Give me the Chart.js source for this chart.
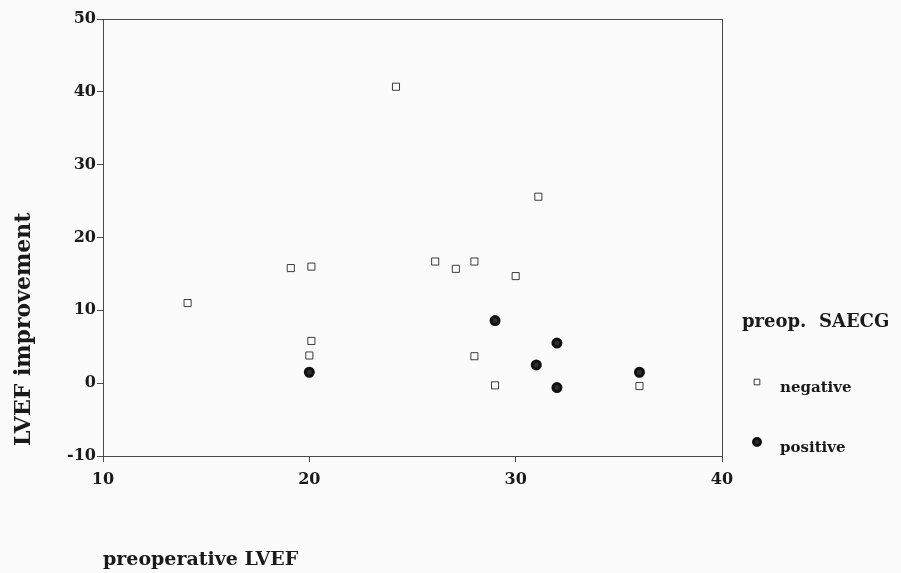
<!DOCTYPE html>
<html>
<head>
<meta charset="utf-8">
<script src="https://cdn.jsdelivr.net/npm/chart.js@4"></script>
<style>
    body { margin: 0; background: #fbfbfb; }
    canvas { display: block; }
</style>
</head>
<body>
<canvas id="grafico_saecg" width="901" height="573"></canvas>
<script>
// valores
const negativoX = [14.1, 19.1, 20.1, 20.1, 20.0, 24.2, 31.1, 26.1, 27.1, 28.0, 30.0, 28.0, 29.0, 36.0];
const negativoY = [11.0, 15.8, 16.0, 5.8, 3.8, 40.7, 25.6, 16.7, 15.7, 16.7, 14.7, 3.7, -0.3, -0.4];
const positivoX = [20.0, 29.0, 32.0, 31.0, 32.0, 36.0];
const positivoY = [1.5, 8.6, 5.5, 2.5, -0.6, 1.5];

const rotulosLegenda = ['negative', 'positive'];
const tituloLegenda = 'preop.  SAECG';
const tituloX = 'preoperative LVEF';
const tituloY = 'LVEF improvement';
const limitesX = [10, 40];
const limitesY = [-10, 50];

const corTexto = '#1a1a1a';
const corLinha = '#4a4a4a';
const fonteSerif = '"DejaVu Serif", "Liberation Serif", serif';

function pares(xs, ys) {
    return xs.map((x, i) => ({ x: x, y: ys[i] }));
}

// moldura em volta da area do grafico
const moldura = {
    id: 'moldura',
    beforeDatasetsDraw(chart) {
        const { ctx, chartArea } = chart;
        ctx.save();
        ctx.strokeStyle = corLinha;
        ctx.lineWidth = 1;
        ctx.strokeRect(chartArea.left + 0.5, chartArea.top + 0.5,
            chartArea.right - chartArea.left, chartArea.bottom - chartArea.top);
        ctx.restore();
    }
};

// titulo do eixo y, na vertical, um pouco acima do fim do eixo
const tituloEixoY = {
    id: 'tituloEixoY',
    afterDraw(chart) {
        const { ctx, chartArea } = chart;
        ctx.save();
        ctx.translate(24, chartArea.bottom - 10);
        ctx.rotate(-Math.PI / 2);
        ctx.font = 'bold 22px ' + fonteSerif;
        ctx.textAlign = 'left';
        ctx.textBaseline = 'middle';
        ctx.fillStyle = corTexto;
        ctx.fillText(tituloY, 0, 0);
        ctx.restore();
    }
};

// legenda à direita, desenhada com os estilos dos datasets
const legendaSAECG = {
    id: 'legendaSAECG',
    afterDraw(chart) {
        const { ctx, chartArea } = chart;
        const x0 = chartArea.right + 20;
        ctx.save();
        ctx.fillStyle = corTexto;
        ctx.textBaseline = 'alphabetic';
        ctx.font = 'bold 18px ' + fonteSerif;
        ctx.fillText(tituloLegenda, x0, 327);

        ctx.font = 'bold 15px ' + fonteSerif;
        chart.data.datasets.forEach((ds, i) => {
            const yTexto = 392 + i * 60;
            ctx.strokeStyle = ds.borderColor;
            ctx.fillStyle = ds.backgroundColor;
            ctx.lineWidth = ds.borderWidth;
            Chart.helpers.drawPoint(ctx, {
                pointStyle: ds.pointStyle,
                radius: i === 0 ? 4 : 3.5,
                borderWidth: ds.borderWidth,
                rotation: 0
            }, x0 + 15, yTexto - 10);
            ctx.fillStyle = corTexto;
            ctx.fillText(rotulosLegenda[i], x0 + 38, yTexto);
        });
        ctx.restore();
    }
};

const contexto = document.getElementById('grafico_saecg').getContext('2d');

const grafico = new Chart(contexto, {
    type: 'scatter',
    data: {
        datasets: [{
            label: rotulosLegenda[0],
            data: pares(negativoX, negativoY),
            pointStyle: 'rect',
            pointRadius: 5,
            borderWidth: 1,
            borderColor: '#3a3a3a',
            backgroundColor: '#fdfdfd'
        }, {
            label: rotulosLegenda[1],
            data: pares(positivoX, positivoY),
            pointStyle: 'circle',
            pointRadius: 4,
            borderWidth: 3,
            borderColor: '#111111',
            backgroundColor: '#2e2e2e'
        }]
    },
    options: {
        responsive: false,
        animation: false,
        layout: {
            padding: { top: 19, right: 179, left: 0, bottom: 0 }
        },
        scales: {
            x: {
                type: 'linear',
                min: limitesX[0],
                max: limitesX[1],
                afterFit: (escala) => { escala.height = 117; },
                grid: {
                    drawOnChartArea: false,
                    tickLength: 6,
                    color: corLinha
                },
                border: { color: corLinha },
                ticks: {
                    stepSize: 10,
                    padding: 8,
                    color: corTexto,
                    font: { family: fonteSerif, size: 16, weight: 'bold' }
                },
                title: {
                    display: true,
                    text: tituloX,
                    align: 'start',
                    color: corTexto,
                    padding: { top: 0, bottom: 2 },
                    font: { family: fonteSerif, size: 19, weight: 'bold' }
                }
            },
            y: {
                type: 'linear',
                min: limitesY[0],
                max: limitesY[1],
                afterFit: (escala) => { escala.width = 103; },
                grid: {
                    drawOnChartArea: false,
                    tickLength: 6,
                    color: corLinha
                },
                border: { color: corLinha },
                ticks: {
                    stepSize: 10,
                    padding: 1,
                    color: corTexto,
                    font: { family: fonteSerif, size: 16, weight: 'bold' }
                },
                title: { display: false }
            }
        },
        plugins: {
            legend: { display: false },
            tooltip: { enabled: false }
        }
    },
    plugins: [moldura, tituloEixoY, legendaSAECG]
});
</script>
</body>
</html>
